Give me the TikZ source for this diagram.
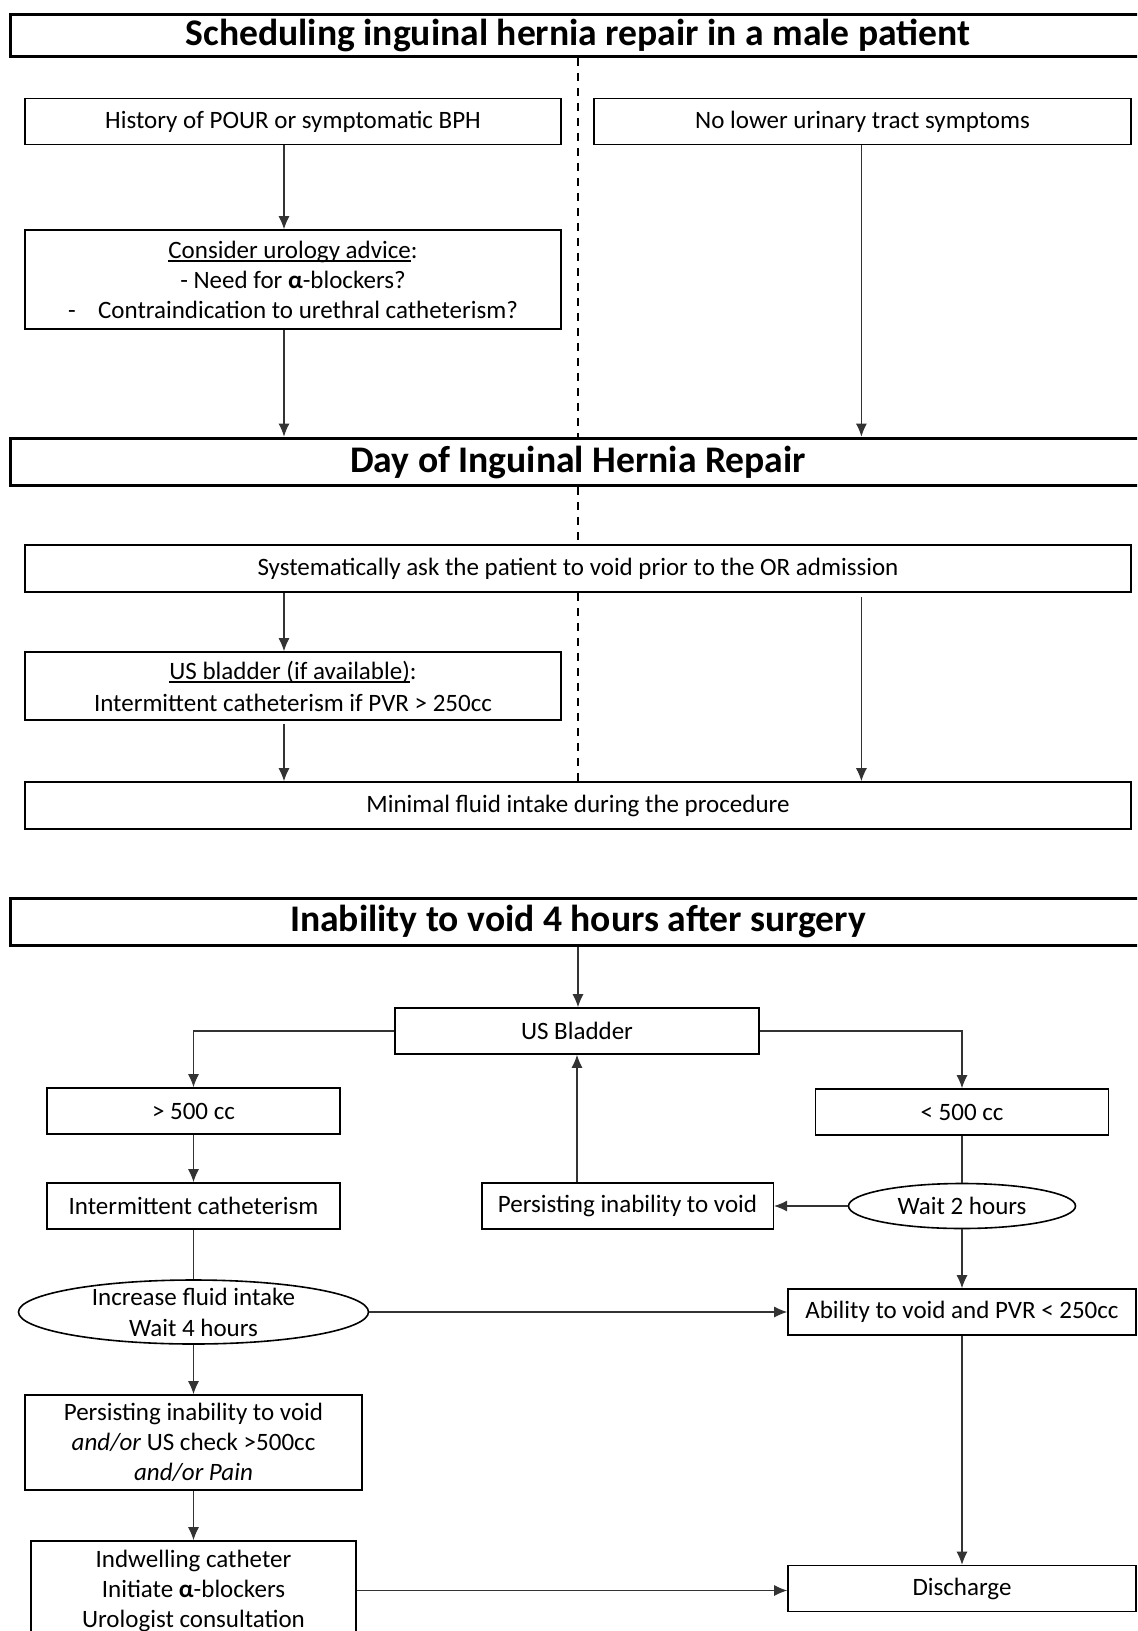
\documentclass[tikz,border=0pt]{standalone}
\usepackage{fontspec}
\setmainfont{Carlito}
\usetikzlibrary{arrows.meta,shapes,positioning}

\newcommand{\undl}[1]{\setbox0\hbox{#1}\rlap{\rule[-1.9pt]{\wd0}{0.8pt}}\box0}

\tikzset{
  box/.style={draw, fill=white, line width=0.8pt, inner sep=2pt, align=center,
    minimum height=23pt, font=\fontsize{12.5}{15}\selectfont},
  headbox/.style={draw, fill=white, line width=1.5pt, inner sep=1pt,
    minimum width=567.5pt, minimum height=21pt, font=\fontsize{18.8}{22}\bfseries\selectfont},
  oval/.style={box, ellipse, inner sep=0pt},
  txt/.style={align=center, font=\fontsize{12.5}{15.5}\selectfont},
  plain/.style={-, black!80, line width=0.55pt},
  flow/.style={->, black!80, line width=0.55pt},
  divider/.style={-, black, line width=0.6pt, dash pattern=on 4pt off 3.5pt}
}

\begin{document}
\begin{tikzpicture}[x=0.5pt,y=-0.5pt,>={Latex[length=6.5pt,width=5.5pt]}]
        \useasboundingbox (0,0) rectangle (1137,1631);
        \clip (0,0) rectangle (1137,1631);
        \coordinate (colL) at (284,0);
        \coordinate (colR) at (861.4,0);

        \node[headbox] (sched) at (578,35.4) {Scheduling inguinal hernia repair in a male patient};
        \node[box, minimum width=268pt] (pour) at (293,121.7) {History of POUR or symptomatic BPH};
        \node[box, minimum width=268.5pt] (noluts) at (862.5,121.7) {No lower urinary tract symptoms};
        \node[box, minimum width=268pt, minimum height=49.5pt] (advice) at (293,279.5)
            {\undl{Consider urology advice}:\\- Need for {\bfseries α}-blockers?\\-\hspace{0.9em}Contraindication to urethral catheterism?};
        \node[headbox, minimum height=23.9pt] (day) at (578,462) {Day of Inguinal Hernia Repair};
        \node[box, minimum width=553pt, minimum height=23.5pt] (void) at (578,568.5)
            {Systematically ask the patient to void prior to the OR admission};
        \node[box, minimum width=268pt, minimum height=34pt] (usprior) at (293,686)
            {\undl{US bladder (if available)}:\\[1pt]Intermittent catheterism if PVR > 250cc};
        \node[box, minimum width=553pt, minimum height=23.5pt] (fluid) at (578,805.5)
            {Minimal fluid intake during the procedure};

        \node[headbox, minimum height=23.8pt] (inab) at (578,921.8) {Inability to void 4 hours after surgery};
        \node[box, minimum width=182pt] (usb) at (577,1031) {US Bladder};
        \node[box, minimum width=146.5pt] (more) at (193.5,1111) {> 500 cc};
        \node[box, minimum width=146.5pt] (less) at (962,1112) {< 500 cc};
        \node[box, minimum width=146.5pt] (icath) at (193.5,1206) {Intermittent catheterism};
        \node[box, minimum width=145.8pt] (persist) at (627.5,1206) {Persisting inability to void};
        \node[oval, minimum width=113.5pt, minimum height=22.5pt] (wait) at (962,1206) {Wait 2 hours};
        \node[oval, minimum width=175pt, minimum height=32pt,
            label={[txt]center:Increase fluid intake\\Wait 4 hours}] (intake) at (193.5,1312) {};
        \node[box, minimum width=174pt] (able) at (962,1312) {Ability to void and PVR < 250cc};
        \node[box, minimum width=168.5pt, minimum height=47.5pt] (fail) at (193.5,1442.5)
            {Persisting inability to void\\\textit{and/or} US check >500cc\\\textit{and/or Pain}};
        \node[box, minimum width=162.5pt, minimum height=49.5pt] (indw) at (193.5,1590.5)
            {Indwelling catheter\\Initiate {\bfseries α}-blockers\\Urologist consultation};
        \node[box, minimum width=174pt] (disch) at (962,1588.5) {Discharge};

        \path[divider]
        (sched.south) edge (day.north)
        (day.south) edge (void.north)
        (void.south) edge (fluid.north)
        ;
        \path[flow]
        (pour.south -| colL) edge (advice.north -| colL)
        (advice.south -| colL) edge (day.north -| colL)
        (noluts.south -| colR) edge (day.north -| colR)
        (void.south -| colL) edge (usprior.north -| colL)
        (usprior.south -| colL) edge[shorten <=1.5pt] (fluid.north -| colL)
        (void.south -| colR) edge[shorten <=2pt] (fluid.north -| colR)
        (inab.south) edge (inab.south |- usb.north)
        (more) edge (icath)
        (wait) edge (persist)
        (persist.north -| usb) edge (usb.south)
        (intake) edge (able)
        (wait) edge (able)
        (intake) edge (fail)
        (fail) edge (indw)
        (indw.east) edge (indw.east -| disch.west)
        (able) edge (disch)
        ;
        \draw[flow] (usb.west) -| (more.north);
        \draw[flow] (usb.east) -| (less.north);
        \path[plain]
        (less) edge (wait)
        (icath) edge (intake)
        ;
    \end{tikzpicture}
\end{document}
